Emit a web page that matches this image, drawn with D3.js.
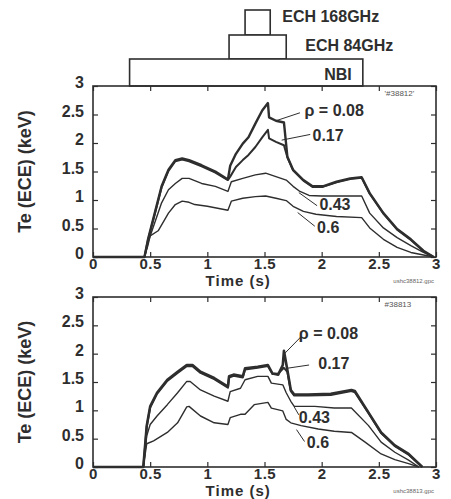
<!DOCTYPE html>
<html lang="en">
<head>
<meta charset="UTF-8">
<title>Te (ECE) shots 38812 / 38813</title>
<script src="https://cdnjs.cloudflare.com/ajax/libs/d3/7.8.5/d3.min.js"></script>
<style>
*{margin:0;padding:0}
body{background:#fff}
svg{display:block;font-family:'Liberation Sans',Arial,sans-serif}
</style>
</head>
<body>
<svg id="c" width="451" height="499"></svg>
<script>
// ---- data ----
const xTicks=[0,0.5,1,1.5,2,2.5,3];
const yTicks=[0,0.5,1,1.5,2,2.5,3];

// heating timing bars above the top panel
const heatNames=["ECH 168GHz","ECH 84GHz","NBI"];
const heatOn=[1.33,1.19,0.32];
const heatOff=[1.55,1.69,2.36];

// shot 38812 (top)
const tA08=[0,0.45,0.48,0.54,0.6,0.66,0.72,0.78,0.84,0.95,1.07,1.18,1.2,1.25,1.31,1.36,1.42,1.48,1.53,1.54,1.6,1.67,1.7,1.75,1.84,1.92,2.01,2.13,2.25,2.35,2.42,2.54,2.66,2.78,2.89,2.98];
const vA08=[0,0,0.3,0.77,1.24,1.53,1.7,1.73,1.7,1.61,1.5,1.36,1.6,1.81,1.99,2.1,2.34,2.57,2.7,2.45,2.39,2.36,1.76,1.53,1.35,1.24,1.24,1.32,1.38,1.4,1.12,0.77,0.49,0.31,0.11,0];
const tA17=[0,0.45,0.48,0.54,0.6,0.66,0.72,0.78,0.84,0.95,1.07,1.18,1.2,1.25,1.31,1.36,1.42,1.48,1.53,1.54,1.6,1.67,1.7,1.75,1.84,1.92,2.01,2.13,2.25,2.35,2.42,2.54,2.66,2.78,2.89,2.98];
const vA17=[0,0,0.29,0.75,1.22,1.51,1.68,1.71,1.68,1.59,1.48,1.35,1.41,1.58,1.7,1.79,1.93,2.1,2.23,2.08,2.02,1.96,1.75,1.52,1.34,1.23,1.23,1.31,1.37,1.39,1.11,0.76,0.48,0.3,0.1,0];
const tA43=[0,0.45,0.48,0.54,0.6,0.66,0.72,0.78,0.84,0.95,1.07,1.18,1.21,1.31,1.42,1.51,1.6,1.69,1.75,1.81,1.89,2.0,2.2,2.35,2.42,2.54,2.66,2.78,2.89,2.98];
const vA43=[0,0,0.25,0.6,0.95,1.18,1.29,1.38,1.38,1.29,1.24,1.15,1.32,1.38,1.44,1.47,1.41,1.35,1.24,1.15,1.08,1.07,1.07,1.07,0.77,0.51,0.34,0.2,0.08,0];
const tA60=[0,0.45,0.48,0.5,0.57,0.66,0.72,0.78,0.84,0.89,1.0,1.18,1.21,1.31,1.42,1.51,1.6,1.69,1.75,1.84,1.95,2.13,2.35,2.42,2.54,2.66,2.78,2.98];
const vA60=[0,0,0.2,0.37,0.46,0.77,0.92,0.98,0.96,0.92,0.89,0.82,0.98,1.03,1.06,1.07,1.03,0.99,0.89,0.8,0.75,0.71,0.69,0.51,0.31,0.17,0.08,0];

// shot 38813 (bottom)
const tB08=[0,0.44,0.47,0.5,0.56,0.65,0.74,0.82,0.87,0.94,1.06,1.18,1.19,1.23,1.31,1.33,1.44,1.53,1.57,1.62,1.66,1.67,1.7,1.73,1.76,1.88,2.08,2.26,2.29,2.41,2.52,2.64,2.76,2.88];
const vB08=[0,0,0.73,1.07,1.31,1.54,1.68,1.8,1.8,1.68,1.57,1.42,1.6,1.63,1.6,1.74,1.77,1.8,1.65,1.63,1.8,2.05,1.71,1.36,1.28,1.28,1.29,1.36,1.34,0.96,0.61,0.38,0.23,0];
const tB17=[0,0.44,0.47,0.5,0.56,0.65,0.74,0.82,0.87,0.94,1.06,1.18,1.19,1.23,1.31,1.33,1.44,1.53,1.57,1.62,1.67,1.7,1.73,1.76,1.88,2.08,2.26,2.29,2.41,2.52,2.64,2.76,2.88];
const vB17=[0,0,0.71,1.05,1.29,1.52,1.66,1.78,1.78,1.66,1.55,1.4,1.58,1.61,1.58,1.72,1.75,1.78,1.64,1.65,1.75,1.68,1.34,1.26,1.26,1.27,1.34,1.32,0.95,0.6,0.37,0.22,0];
const tB43=[0,0.44,0.47,0.5,0.56,0.65,0.74,0.82,0.85,0.94,1.06,1.18,1.2,1.29,1.33,1.44,1.53,1.56,1.66,1.69,1.73,1.76,1.94,2.11,2.26,2.41,2.52,2.64,2.76,2.85];
const vB43=[0,0,0.55,0.75,0.9,1.1,1.31,1.51,1.51,1.36,1.25,1.16,1.33,1.39,1.54,1.6,1.6,1.48,1.45,1.31,1.16,1.07,1.07,1.04,1.04,0.73,0.44,0.26,0.12,0];
const tB60=[0,0.44,0.47,0.53,0.65,0.74,0.82,0.84,0.94,1.06,1.18,1.2,1.29,1.33,1.41,1.53,1.56,1.66,1.69,1.73,1.82,1.97,2.11,2.26,2.38,2.52,2.64,2.76,2.85];
const vB60=[0,0,0.41,0.46,0.61,0.78,1.06,1.07,0.9,0.78,0.75,0.87,0.93,0.93,1.1,1.14,1.04,0.99,0.84,0.78,0.73,0.67,0.63,0.61,0.44,0.23,0.13,0.06,0];

// curve annotations, in data units: text anchor and leader line
const labA=[
 {s:"\u03c1 = 0.08",t:1.85,v:2.58,l:[1.81,2.53,1.6,2.39]},
 {s:"0.17",t:1.92,v:2.13,l:[1.9,2.15,1.65,2.05]},
 {s:"0.43",t:1.98,v:0.92,l:[1.96,0.9,1.8,1.13]},
 {s:"0.6",t:1.96,v:0.52,l:[1.94,0.54,1.79,0.78]}];
const labB=[
 {s:"\u03c1 = 0.08",t:1.8,v:2.35,l:[1.82,2.3,1.67,1.99]},
 {s:"0.17",t:1.97,v:1.83,l:[1.89,1.8,1.69,1.74]},
 {s:"0.43",t:1.8,v:0.87,l:[1.8,0.92,1.76,1.06]},
 {s:"0.6",t:1.87,v:0.44,l:[1.85,0.45,1.78,0.66]}];

// ---- drawing ----
const ink='#2e2e2e';
const svg=d3.select('#c');
const x=d3.scaleLinear().domain([0,3]).range([93,436]);

function panel(y0,y1,series,labs,shot,file){
  const y=d3.scaleLinear().domain([0,3]).range([y1,y0]);
  const g=svg.append('g');
  const ax=(a,tr,fs)=>{const s=g.append('g').attr('transform',tr).call(a);
    s.select('.domain').remove();s.selectAll('line').attr('stroke',ink).attr('stroke-width',1.2);
    s.selectAll('text').attr('fill',ink).attr('font-size',fs+'px').attr('font-weight','bold').attr('font-family','Liberation Sans,Arial,sans-serif');return s};
  ax(d3.axisBottom(x).tickValues(xTicks).tickSize(-5).tickPadding(1).tickFormat(d3.format('~g')),'translate(0,'+y1+')',15)
    .selectAll('text').attr('letter-spacing','0.5px');
  ax(d3.axisTop(x).tickValues(xTicks).tickSize(-5).tickFormat(''),'translate(0,'+y0+')',15);
  ax(d3.axisLeft(y).tickValues(yTicks).tickSize(-5).tickPadding(9).tickFormat(d3.format('~g')),'translate('+x(0)+',0)',16)
    .selectAll('text').attr('dy','0.1em');
  ax(d3.axisRight(y).tickValues(yTicks).tickSize(-5).tickFormat(''),'translate('+x(3)+',0)',15);
  g.append('rect').attr('x',x(0)).attr('y',y0).attr('width',x(3)-x(0)).attr('height',y1-y0)
    .attr('fill','none').attr('stroke',ink).attr('stroke-width',1.6);
  const line=d3.line().x(d=>x(d[0])).y(d=>y(d[1]));
  series.forEach(s=>{
    g.append('path').datum(d3.zip(s.t,s.v)).attr('d',line).attr('fill','none')
      .attr('stroke',ink).attr('stroke-width',s.w).attr('stroke-linejoin','round');
  });
  labs.forEach(a=>{
    g.append('line').attr('x1',x(a.l[0])).attr('y1',y(a.l[1])).attr('x2',x(a.l[2])).attr('y2',y(a.l[3]))
      .attr('stroke',ink).attr('stroke-width',1);
    g.append('text').attr('x',x(a.t)).attr('y',y(a.v)).attr('dy','0.35em')
      .attr('font-size','16px').attr('font-weight','bold').attr('fill',ink).text(a.s);
  });
  g.append('text').attr('x',x(2.55)).attr('y',y(2.87)).attr('dy','0.35em').attr('font-size','8px')
    .attr('fill','#555').text(shot);
  g.append('text').attr('x',x(3)-2).attr('y',y1+26).attr('text-anchor','end').attr('font-size','6px')
    .attr('fill','#666').text(file);
  g.append('text').attr('x',x(1.27)).attr('y',y1+29).attr('text-anchor','middle')
    .attr('font-size','15px').attr('letter-spacing','1px').attr('font-weight','bold').attr('fill',ink).text('Time (s)');
  g.append('text').attr('transform','translate(25,'+((y0+y1)/2)+') rotate(-90)').attr('dy','0.35em')
    .attr('text-anchor','middle').attr('font-size','18px').attr('font-weight','bold').attr('fill',ink)
    .text('Te (ECE) (keV)');
}

// heating bars: stacked rows above the top frame
const rowTop=[10,35,59],rowBot=[35,59,86];
heatNames.forEach((n,i)=>{
  svg.append('rect').attr('x',x(heatOn[i])).attr('y',rowTop[i]).attr('width',x(heatOff[i])-x(heatOn[i]))
    .attr('height',rowBot[i]-rowTop[i]).attr('fill','#fff').attr('stroke',ink).attr('stroke-width',1.6);
});
svg.append('text').attr('x',x(heatOff[0])+12).attr('y',16).attr('dy','0.35em').attr('font-size','16px')
  .attr('font-weight','bold').attr('fill',ink).text(heatNames[0]);
svg.append('text').attr('x',x(heatOff[1])+19).attr('y',45).attr('dy','0.35em').attr('font-size','16px')
  .attr('font-weight','bold').attr('fill',ink).text(heatNames[1]);
svg.append('text').attr('x',x(heatOff[2])-11).attr('y',74).attr('dy','0.35em').attr('text-anchor','end')
  .attr('font-size','16px').attr('font-weight','bold').attr('fill',ink).text(heatNames[2]);

panel(86,257,[
  {t:tA60,v:vA60,w:1.4},{t:tA43,v:vA43,w:1.4},{t:tA17,v:vA17,w:2},{t:tA08,v:vA08,w:2.4}],
  labA,"'#38812'","ushc38812.gpc");
panel(297,467,[
  {t:tB60,v:vB60,w:1.4},{t:tB43,v:vB43,w:1.4},{t:tB17,v:vB17,w:2},{t:tB08,v:vB08,w:2.6}],
  labB,"#38813","ushc38813.gpc");
</script>
</body>
</html>
